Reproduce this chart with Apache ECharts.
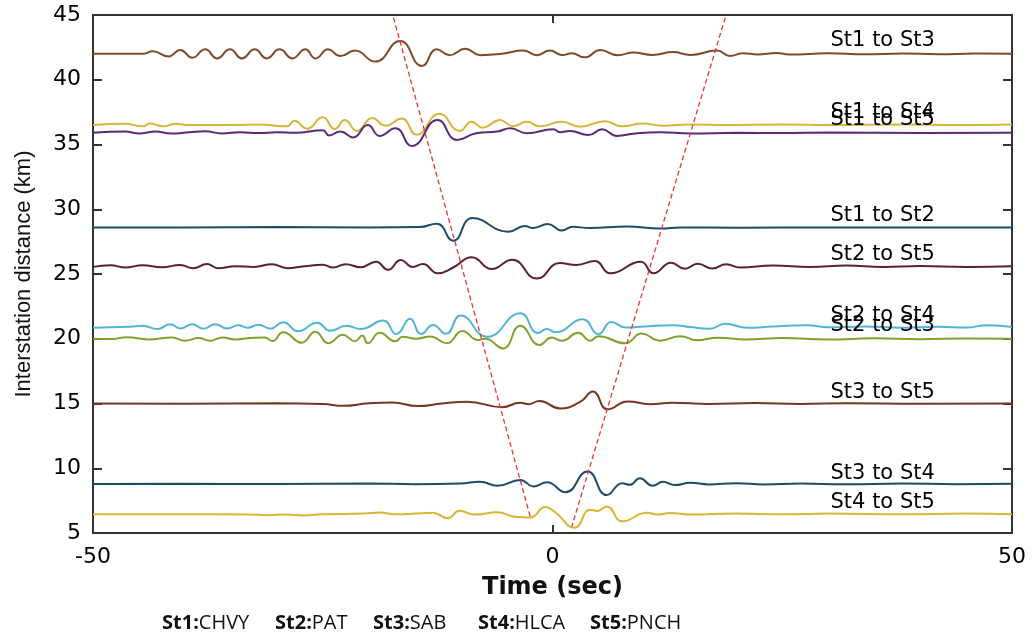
<!DOCTYPE html>
<html>
<head>
<meta charset="utf-8">
<script src="https://cdn.jsdelivr.net/npm/echarts@6/dist/echarts.min.js"></script>
<style>
  html, body { margin: 0; background: #fff; }
  #chart { width: 1032px; height: 637px; }
</style>
</head>
<body>
<div id="chart"></div>
<script>
// station pairs, drawn top to bottom
const pairNames = ["St1 to St3", "St1 to St4", "St1 to St5", "St1 to St2", "St2 to St5",
                   "St2 to St4", "St2 to St3", "St3 to St5", "St3 to St4", "St4 to St5"];

// where each pair name sits (time, distance)
const labelAnchors = [[30.2, 43.0], [30.2, 37.47], [30.2, 36.93], [30.2, 29.5], [30.2, 26.5],
                      [30.2, 21.8], [30.2, 21.03], [30.2, 15.85], [30.2, 9.6], [30.2, 7.32]];

// cross-correlation traces: [time (sec), interstation distance (km)]
const st1st3 = [[-50,42.0],[-44.6,42.0],[-43.5,42.2],[-41.8,41.8],[-40.5,42.3],[-39.2,41.7],[-37.8,42.35],
  [-36.5,41.65],[-35.1,42.35],[-33.8,41.65],[-32.4,42.35],[-31.1,41.65],[-29.7,42.35],[-28.3,41.65],
  [-26.9,42.35],[-25.8,41.65],[-24.4,42.35],[-23.1,41.83],[-21.5,42.25],[-19.3,41.4],[-16.6,43.0],
  [-14.2,41.06],[-12.6,42.35],[-11.2,41.9],[-9.5,42.4],[-7.9,41.9],[-5.5,42.0],[-3.2,42.25],[-1.7,41.9],
  [-0.3,42.25],[1.1,41.9],[2.1,42.05],[3.5,41.73],[5.2,42.3],[7.1,41.9],[8.8,42.1],[10.9,41.92],
  [13.1,42.14],[15.0,41.92],[17.9,42.25],[19.3,41.83],[20.7,42.05],[22.3,41.95],[24.4,42.06],
  [25.8,41.95],[30,42.04],[34,41.96],[38,42.03],[42,41.97],[46,42.02],[50,42.0]];

const st1st4 = [[-50,36.5],[-46.5,36.6],[-44.6,36.4],[-43.8,36.62],[-42.4,36.4],[-41.0,36.6],[-39.5,36.5],
  [-35,36.5],[-32,36.55],[-28.9,36.4],[-28.1,36.84],[-26.7,36.22],[-25.0,37.1],[-23.7,36.2],[-22.6,36.9],
  [-21.3,36.05],[-19.6,37.05],[-18.2,36.45],[-16.4,37.0],[-14.8,35.75],[-12.3,37.38],[-10.1,36.05],
  [-8.8,36.76],[-7.6,36.3],[-5.7,36.9],[-4.3,36.4],[-2.8,36.75],[-1.4,36.4],[1.0,36.75],[3.0,36.38],
  [5.7,36.8],[7.6,36.4],[9.8,36.62],[12,36.45],[15,36.55],[19,36.5],[25,36.55],[30,36.5],[38,36.55],
  [44,36.5],[50,36.55]];

const st1st5 = [[-50,35.9],[-46.5,36.0],[-45,35.85],[-43.2,36.0],[-41.5,35.85],[-39.5,35.95],[-37.8,36.02],
  [-36,35.85],[-34,35.95],[-32,35.88],[-30,35.95],[-28,35.9],[-25.0,36.1],[-24.3,35.7],[-23.1,36.0],
  [-21.7,35.55],[-20.1,36.5],[-18.8,35.66],[-17.1,36.25],[-15.3,34.88],[-12.5,36.9],[-10.4,35.35],
  [-8.3,35.87],[-6,36.0],[-4.6,36.25],[-2.8,35.87],[0.1,36.17],[0.8,35.95],[1.9,36.05],[3.9,35.73],
  [5.4,36.17],[7.0,35.66],[9,35.85],[11.7,35.95],[15,35.85],[20,35.9],[25,35.88],[30,35.92],[40,35.88],
  [50,35.9]];

const st1st2 = [[-50,28.6],[-40,28.6],[-30,28.62],[-20,28.6],[-14.5,28.62],[-12.6,28.88],[-10.8,27.57],
  [-8.7,29.32],[-4.8,28.27],[-3.0,28.7],[-2.1,28.55],[-0.5,28.86],[1.0,28.36],[2.2,28.65],[4,28.55],
  [8.1,28.66],[11.7,28.52],[14,28.6],[20,28.58],[30,28.6],[40,28.6],[50,28.6]];

const st2st5 = [[-50,25.55],[-48.1,25.68],[-46.5,25.5],[-44.6,25.68],[-42.5,25.52],[-40.5,25.7],
  [-39.1,25.45],[-37.6,25.77],[-36.4,25.45],[-34.5,25.6],[-32.5,25.55],[-30.5,25.75],[-28.9,25.45],
  [-27,25.6],[-25.0,25.72],[-23.9,25.5],[-22.5,25.75],[-20.9,25.52],[-19.2,25.95],[-17.9,25.32],
  [-16.5,26.08],[-15.2,25.55],[-14.1,25.77],[-12.5,25.05],[-10.8,25.5],[-8.8,26.3],[-6.6,25.38],
  [-4.4,26.1],[-1.7,24.65],[0.8,25.84],[2.6,25.7],[4.6,26.0],[6.3,25.05],[9.6,25.95],[11.0,25.05],
  [12.9,25.87],[14.4,25.4],[15.8,25.8],[17.4,25.42],[18.9,25.75],[20.4,25.5],[24,25.65],[28,25.55],
  [32,25.65],[36,25.55],[40,25.62],[45,25.55],[50,25.6]];

const st2st4 = [[-50,20.85],[-46,20.92],[-44.6,21.0],[-43.0,20.75],[-41.6,21.12],[-40.5,20.8],[-39.2,21.12],
  [-38.0,20.78],[-36.7,21.12],[-35.4,20.8],[-34.2,21.05],[-33.2,20.85],[-32.0,21.08],[-30.7,20.78],
  [-29.3,21.28],[-27.7,20.58],[-25.6,21.24],[-24.2,20.62],[-22.4,21.0],[-20.9,20.75],[-18.4,21.4],
  [-17.0,20.37],[-15.5,21.55],[-14.3,20.36],[-13.0,21.06],[-11.6,20.38],[-10.0,21.8],[-7.1,20.15],
  [-3.5,21.97],[-1.6,20.45],[-0.6,20.75],[0.3,20.5],[3.3,21.5],[5.0,20.36],[6.4,21.3],[8.0,20.86],
  [10,20.95],[13.1,21.05],[15,20.9],[17.1,20.78],[18.8,21.15],[21.2,20.85],[24,20.95],[27.7,21.05],
  [30,20.88],[34,20.95],[38,20.85],[42,20.92],[45,20.86],[47.3,21.05],[50,20.9]];

const st2st3 = [[-50,20.0],[-48,19.98],[-46.3,20.12],[-44,19.95],[-41.4,20.1],[-40.0,19.85],[-38.5,20.05],
  [-37.3,19.85],[-35.9,20.1],[-34.5,19.95],[-32.9,20.05],[-31.3,20.1],[-30.5,19.82],[-29.3,20.5],
  [-27.3,19.7],[-25.8,20.55],[-24.4,19.65],[-22.8,20.3],[-21.5,19.8],[-20.7,20.25],[-20.1,19.65],
  [-18.8,20.46],[-17.1,19.8],[-16.3,20.15],[-14.8,20.0],[-13.3,20.18],[-11.5,19.65],[-9.8,20.6],
  [-8.1,19.9],[-7.3,20.0],[-5.4,19.25],[-3.5,21.0],[-1.4,19.52],[-0.1,20.1],[1.0,19.85],[2.8,20.46],
  [4.1,19.85],[5.0,20.2],[7.9,19.65],[9.7,20.4],[11.7,19.85],[13.9,20.2],[15.7,19.88],[18,20.08],
  [21,19.95],[25,20.05],[30,19.95],[35,20.03],[40,19.97],[45,20.02],[50,20.0]];

const st3st5 = [[-50,15.0],[-40,14.98],[-30,15.02],[-25,14.97],[-22.8,14.82],[-20,15.02],[-17.4,15.08],
  [-14.7,14.8],[-12,15.0],[-9.3,15.14],[-5.5,14.72],[-3.5,15.05],[-2.6,14.95],[-1.4,15.2],[0.8,14.62],
  [3.0,15.12],[4.4,15.92],[6.0,14.55],[8.2,15.16],[10.6,14.95],[13,15.05],[17,14.97],[22,15.03],
  [27,14.97],[32,15.02],[40,14.98],[50,15.0]];

const st3st4 = [[-50,8.78],[-40,8.8],[-30,8.78],[-20,8.82],[-15,8.77],[-10,8.82],[-7.9,8.96],[-6.0,8.65],
  [-3.5,9.1],[-2.1,8.6],[-0.6,8.92],[1.4,8.15],[3.8,9.75],[5.9,7.93],[7.6,8.85],[8.4,8.72],[9.5,9.22],
  [10.9,8.65],[12.0,8.95],[13.3,8.7],[15,8.88],[17,8.75],[20,8.85],[23,8.75],[27,8.82],[32,8.76],
  [38,8.82],[44,8.77],[50,8.8]];

const st4st5 = [[-50,6.45],[-40,6.45],[-33,6.43],[-31,6.38],[-29,6.42],[-27,6.36],[-25,6.45],[-20.5,6.5],
  [-18.8,6.58],[-17,6.44],[-15,6.5],[-13.0,6.56],[-11.4,6.14],[-10.1,6.72],[-8.5,6.42],[-6.0,6.6],
  [-4.1,6.25],[-2.4,6.2],[-0.8,7.0],[0.3,6.6],[2.4,5.4],[4.1,6.8],[4.9,6.7],[5.9,7.05],[7.6,5.9],
  [10.3,6.56],[11.5,6.42],[12.8,6.55],[15,6.42],[20,6.5],[25,6.45],[30,6.5],[38,6.45],[45,6.5],[50,6.45]];

const traces = [st1st3, st1st4, st1st5, st1st2, st2st5, st2st4, st2st3, st3st5, st3st4, st4st5];

// picked moveout lines (dashed red)
const moveoutLeft = [[-17.3, 44.8], [-2.4, 6.2]];
const moveoutRight = [[18.8, 44.8], [2.1, 5.5]];

const stationCodes = ["St1", "St2", "St3", "St4", "St5"];
const stationNames = ["CHVY", "PAT", "SAB", "HLCA", "PNCH"];

const xTicks = { min: -50, max: 50, step: 50 };
const yTicks = { min: 5, max: 45, step: 5 };

const lineColors = ["#7d4b2c", "#d8b43a", "#5b2b78", "#1e4c68", "#5a2038",
                    "#52b4d4", "#80a22c", "#763520", "#1f4a6c", "#d6b634"];

const chart = echarts.init(document.getElementById("chart"));

const frame = { color: "#333", width: 2 };
const tickFont = { fontFamily: "DejaVu Sans", fontSize: 22, color: "#000" };

const traceSeries = traces.map((data, i) => ({
  name: pairNames[i],
  type: "line",
  data: data,
  smooth: 0.5,
  showSymbol: false,
  silent: true,
  lineStyle: { color: lineColors[i], width: 2 },
  z: 3
}));

const moveoutSeries = [moveoutLeft, moveoutRight].map(d => ({
  type: "line",
  data: d,
  showSymbol: false,
  silent: true,
  lineStyle: { color: "#ee3333", width: 1.3, type: [5, 3] },
  z: 4
}));

const labelSeries = {
  type: "scatter",
  symbolSize: 1,
  itemStyle: { color: "#fff", opacity: 0 },
  silent: true,
  z: 5,
  data: pairNames.map((n, i) => ({ name: n, value: labelAnchors[i] })),
  label: {
    show: true,
    position: "right",
    distance: 0,
    formatter: "{b}",
    fontFamily: "DejaVu Sans",
    fontSize: 21,
    color: "#000",
    opacity: 1,
    textBorderWidth: 0
  },
  labelLayout: { hideOverlap: false }
};

const stationX = [162, 275, 373, 478, 590];
const stationText = stationCodes.map((c, i) => ({
  type: "text",
  left: stationX[i],
  top: 613,
  style: {
    text: "{b|" + c + ":}{r|" + stationNames[i] + "}",
    rich: {
      b: { fontFamily: "Open Sans", fontWeight: "bold", fontSize: 20, fill: "#111" },
      r: { fontFamily: "Open Sans", fontSize: 20, fill: "#111" }
    }
  }
}));

chart.setOption({
  animation: false,
  backgroundColor: "#fff",
  grid: { left: 93, right: 20, top: 15, bottom: 104 },
  xAxis: [
    {
      type: "value", min: xTicks.min, max: xTicks.max, interval: xTicks.step,
      name: "Time (sec)", nameLocation: "middle", nameGap: 43,
      nameTextStyle: { fontFamily: "DejaVu Sans", fontWeight: "bold", fontSize: 24, color: "#111" },
      axisLine: { show: true, onZero: false, lineStyle: frame },
      axisTick: { show: true, inside: true, length: 8, lineStyle: frame },
      axisLabel: Object.assign({ margin: 13 }, tickFont),
      splitLine: { show: false }
    },
    {
      type: "value", position: "top", min: xTicks.min, max: xTicks.max, interval: xTicks.step,
      axisLine: { show: true, onZero: false, lineStyle: frame },
      axisTick: { show: true, inside: true, length: 8, lineStyle: frame },
      axisLabel: { show: false },
      splitLine: { show: false }
    }
  ],
  yAxis: [
    {
      type: "value", min: yTicks.min, max: yTicks.max, interval: yTicks.step,
      name: "Interstation distance (km)", nameLocation: "middle", nameGap: 58,
      nameTextStyle: { fontFamily: "Liberation Sans", fontSize: 22, color: "#111" },
      axisLine: { show: true, onZero: false, lineStyle: frame },
      axisTick: { show: true, inside: true, length: 9, lineStyle: frame },
      axisLabel: Object.assign({ margin: 12 }, tickFont),
      splitLine: { show: false }
    },
    {
      type: "value", position: "right", min: yTicks.min, max: yTicks.max, interval: yTicks.step,
      axisLine: { show: true, onZero: false, lineStyle: frame },
      axisTick: { show: true, inside: true, length: 9, lineStyle: frame },
      axisLabel: { show: false },
      splitLine: { show: false }
    }
  ],
  graphic: stationText,
  series: traceSeries.concat(moveoutSeries, [labelSeries])
});
</script>
</body>
</html>
